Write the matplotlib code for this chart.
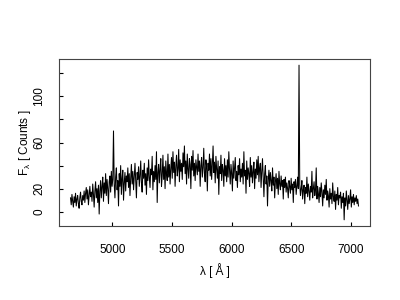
import numpy as np
import matplotlib
matplotlib.use("Agg")
import matplotlib.pyplot as plt

plt.rcParams['font.family'] = ['Liberation Sans', 'DejaVu Sans']
plt.rcParams['mathtext.fontset'] = 'custom'
plt.rcParams['mathtext.rm'] = 'Liberation Sans'
plt.rcParams['mathtext.it'] = 'Liberation Sans'

# wavelength grid start / step (Angstrom)
wave_start = 4650
wave_step = 6

# flux values (counts)
flux = [
    12, 6, 15, 9, 4, 13, 8, 16, 5, 11, 14, 7, 3, 12, 17, 9, 6, 14, 10, 18,
    8, 16, 21, 11, 19, 6, 14, 22, 13, 17, 9, 24, 15, 4, 18, 26, 12, 20, 8, 23,
    -2, 18, 27, 12, 22, 30, 9, 25, 16, 33, 14, 28, 20, 7, 26, 31, 17, 35, 22, 28,
    70, 24, 12, 30, 38, 19, 27, 5, 33, 22, 40, 15, 29, 36, 10, 25, 34, 18, 31, 26,
    38, 21, 33, 14, 29, 41, 24, 35, 19, 30, 42, 26, 12, 34, 28, 39, 22, 31, 44, 25,
    17, 36, 29, 42, 23, 33, 15, 38, 27, 45, 30, 21, 37, 32, 48, 19, 35, 26, 40, 28,
    52, 8, 34, 41, 25, 37, 46, 22, 31, 49, 28, 39, 20, 44, 33, 27, 50, 30, 41, 24,
    38, 47, 29, 52, 34, 43, 22, 40, 49, 31, 37, 54, 26, 45, 35, 42, 28, 51, 39, 57,
    33, 44, 24, 50, 37, 29, 46, 41, 20, 48, 36, 53, 31, 42, 27, 45, 38, 32, 50, 35,
    44, 22, 40, 47, 30, 38, 55, 33, 26, 45, 39, 18, 42, 36, 50, 31, 46, 28, 41, 57,
    34, 43, 25, 48, 37, 29, 44, 15, 39, 33, 49, 27, 41, 36, 22, 46, 31, 40, 26, 45,
    30, 52, 36, 24, 41, 33, 18, 44, 29, 38, 47, 27, 35, 21, 40, 32, 46, 26, 37, 30,
    42, 24, 52, 31, 36, 16, 44, 28, 38, 33, 22, 47, 30, 40, 25, 35, 43, 20, 37, 29,
    45, 32, 48, 26, 38, 42, 21, 35, 46, 29, 13, 33, 40, 24, 31, 5, 28, 36, 22, 34,
    27, 18, 38, 23, 30, 12, 26, 33, 20, 29, 15, 35, 24, 19, 31, 22, 27, 11, 28, 21,
    30, 17, 25, 20, 12, 27, 22, 16, 29, 19, 24, 8, 26, 21, 28, 15, 23, 30, 20, 127,
    24, 14, 20, 27, 11, 19, 23, 7, 21, 16, 30, 13, 24, 18, 10, 22, 17, 35, 12, 20,
    26, 14, 19, 38, 11, 22, 16, 8, 21, 13, 25, 17, 5, 19, 12, 23, 15, 28, 10, 18,
    14, 4, 20, 11, 16, 7, 25, 13, 9, 18, 2, 15, 10, 21, 6, 14, 12, 17, 3, 13,
    8, 16, -7, 12, 5, 18, 10, 2, 14, 7, 11, 19, 4, 13, 8, 15, 6, 12, 9, 14,
    7, 11, 5,
]

x_ticks = [5000, 5500, 6000, 6500, 7000]
y_ticks = [0, 20, 40, 60, 80, 100, 120]
y_ticklabels = ['0', '20', '', '60', '', '100', '']

wave = wave_start + wave_step * np.arange(len(flux))

fig = plt.figure(figsize=(4, 3), dpi=100)
ax = fig.add_axes([0.1475, 0.2467, 0.7775, 0.5566])
ax.plot(wave, flux, color='black', lw=0.75)
ax.margins(x=0.04, y=0.04)

ax.set_xticks(x_ticks)
ax.set_yticks(y_ticks)
ax.set_yticklabels(y_ticklabels, rotation=90, va='center')
ax.tick_params(axis='both', direction='in', length=3, width=0.8, labelsize=8.5)
ax.tick_params(axis='x', pad=13)
ax.tick_params(axis='y', pad=10)
for s in ax.spines.values():
    s.set_linewidth(0.8)
    s.set_color('#444444')

ax.set_xlabel('λ [ Å ]', fontsize=8.5, labelpad=5)
ax.set_ylabel('F$_λ$ [ Counts ]', fontsize=8.5, labelpad=0)

fig.savefig('out.png', dpi=100)
